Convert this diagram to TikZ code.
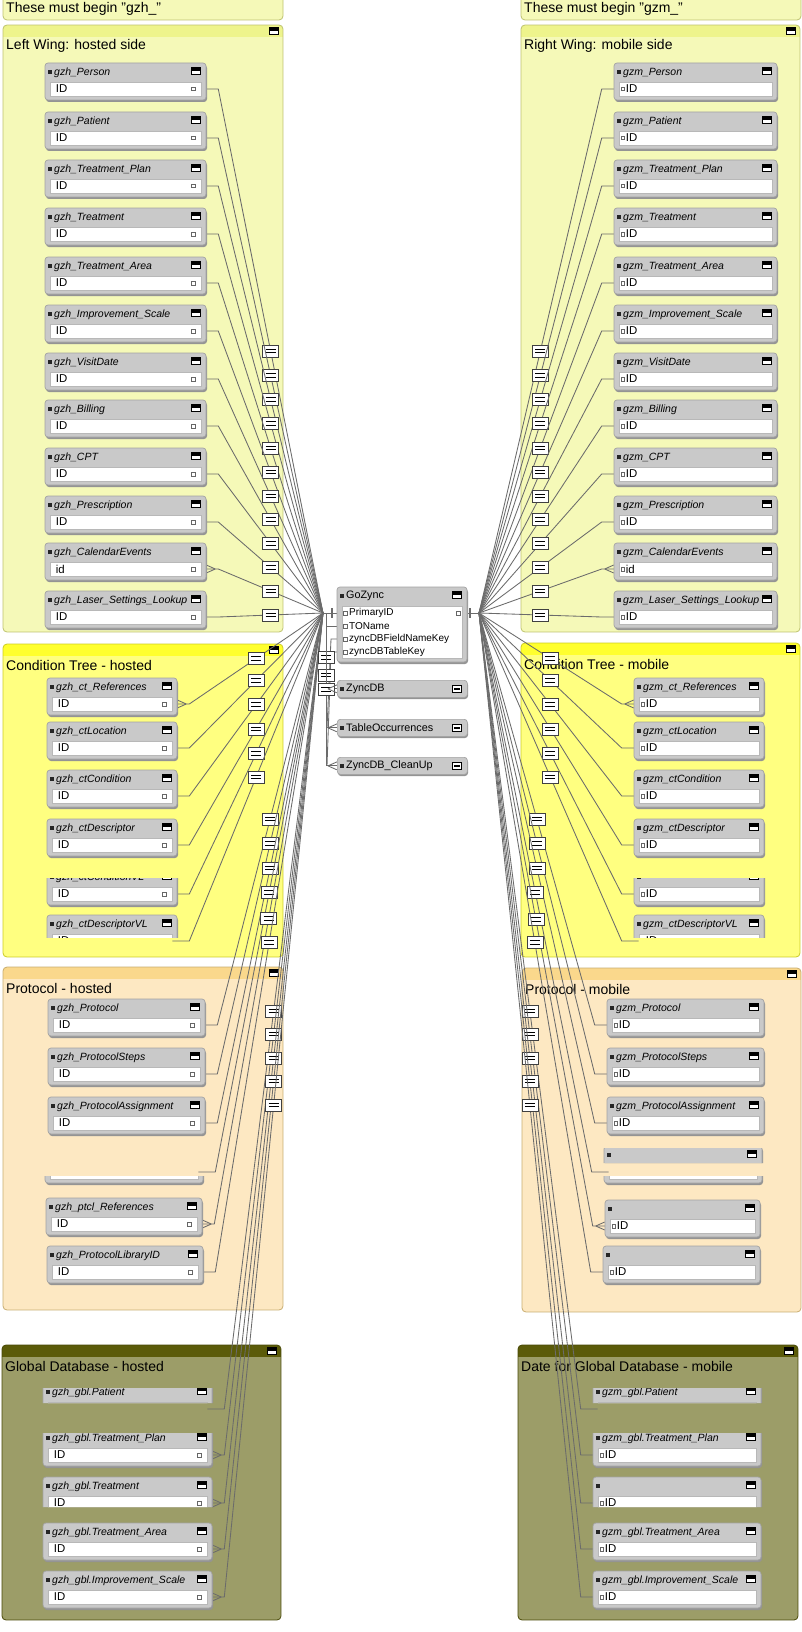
\documentclass[tikz,border=0pt]{standalone}
\usepackage{fontspec}
\setmainfont{Liberation Sans}
\pgfdeclarelayer{grp}
\pgfdeclarelayer{lnk}
\pgfsetlayers{grp,lnk,main}

\definecolor{wingbody}{HTML}{F5F9B8}
\definecolor{winghead}{HTML}{EEF48C}
\definecolor{ctbody}{HTML}{FFFF80}
\definecolor{cthead}{HTML}{FFFF2E}
\definecolor{prbody}{HTML}{FDE8C2}
\definecolor{prhead}{HTML}{FAD88C}
\definecolor{glbody}{HTML}{9C9D68}
\definecolor{glhead}{HTML}{5B5B09}

\tikzset{
  rel/.style={draw=black!58, line width=0.85pt},
  tshad/.style={fill=black!42, rounded corners=3pt},
  tframe/.style={fill=black!21, draw=black!36, line width=0.7pt, rounded corners=3pt},
  ttl/.style={anchor=west, inner sep=0pt, font=\fontsize{10.5}{12}\selectfont\itshape},
  ttlu/.style={anchor=west, inner sep=0pt, font=\fontsize{10.8}{12}\selectfont},
  fld/.style={fill=white, draw=black!28, line width=0.6pt, minimum height=14pt, inner sep=0pt},
  ftxt/.style={anchor=west, inner sep=0pt, font=\fontsize{11.4}{12}\selectfont},
  gtxt/.style={anchor=west, inner sep=0pt, font=\fontsize{10}{11}\selectfont},
  glbl/.style={anchor=west, inner sep=0pt, font=\fontsize{14}{16}\selectfont},
  port/.style={draw=black!60, minimum size=3.5pt, inner sep=0pt, line width=0.5pt},
  tico/.style={fill=black!85, minimum size=4pt, inner sep=0pt},
  ctab/.style={tframe, anchor=north west, minimum width=130pt, minimum height=17pt, inner sep=0pt},
  minbtn/.style={draw=black, fill=white, minimum width=9pt, minimum height=7pt, inner sep=0pt, line width=0.6pt,
    path picture={\fill[black] (path picture bounding box.north west) rectangle (path picture bounding box.east);}},
  minbtnc/.style={draw=black, fill=white, minimum width=9pt, minimum height=7pt, inner sep=0pt, line width=0.6pt,
    path picture={\fill[black] ([xshift=1.5pt,yshift=1pt]path picture bounding box.west) rectangle ([xshift=-1.5pt,yshift=-1pt]path picture bounding box.east);}},
  eqbox/.style={draw=black!75, fill=white, minimum width=16pt, minimum height=12pt, inner sep=0pt, line width=0.7pt,
    path picture={\draw[black, line width=1.1pt]
      ([xshift=3pt,yshift=1.8pt]path picture bounding box.west) -- ([xshift=-3pt,yshift=1.8pt]path picture bounding box.east)
      ([xshift=3pt,yshift=-1.8pt]path picture bounding box.west) -- ([xshift=-3pt,yshift=-1.8pt]path picture bounding box.east);}}
}

% table occurrence: name, x, y (top), width, title, field, side (h/m)
\newcommand{\dbtab}[7]{%
  \fill[tshad] (#2+1,#3+2) rectangle ++(#4,37);
  \filldraw[tframe] (#2,#3) rectangle ++(#4,37);
  \node[tico] at (#2+5,#3+9) {};
  \node[ttl] at (#2+9,#3+9.5) {#5};
  \node[minbtn] at (#2+#4-10,#3+8) {};
  \node[fld, minimum width=#4-10] (#1) at (#2+#4/2,#3+26) {};
  \if h#7
    \node[ftxt] at ([xshift=6pt]#1.west) {#6};
    \node[port] at ([xshift=-8pt]#1.east) {};
  \else
    \node[port] at ([xshift=4pt]#1.west) {};
    \node[ftxt] at ([xshift=7pt]#1.west) {#6};
  \fi}

% group: name, x1, y1, x2, y2, body, head, label
\newcommand{\grpbox}[8]{%
  \begin{scope}
    \clip[rounded corners=4pt] (#2,#3) rectangle (#4,#5);
    \fill[#6] (#2,#3) rectangle (#4,#5);
    \fill[#7] (#2,#3) rectangle (#4,#3+12);
  \end{scope}
  \draw[rounded corners=4pt, draw=#7!80!black, line width=0.8pt] (#2,#3) rectangle (#4,#5);
  \node[glbl] (#1) at (#2+3,#3+21) {#8};
  \node[minbtn] at (#4-9,#3+6) {};}

\newcommand{\crowR}[1]{\draw[rel] ([xshift=14pt]#1.east) -- ([xshift=5pt,yshift=4pt]#1.east)
  ([xshift=14pt]#1.east) -- ([xshift=5pt,yshift=-4pt]#1.east);}
\newcommand{\crowL}[2]{\draw[rel] ([xshift=-#2pt-9pt]#1.west) -- ([xshift=-#2pt,yshift=4pt]#1.west)
  ([xshift=-#2pt-9pt]#1.west) -- ([xshift=-#2pt,yshift=-4pt]#1.west);}

\begin{document}
\begin{tikzpicture}[x=1pt,y=-1pt]
\useasboundingbox (0,0) rectangle (802,1632);

% groups
\begin{pgfonlayer}{grp}
\fill[white] (0,0) rectangle (802,1632);
\filldraw[fill=wingbody, draw=winghead!80!black, line width=0.8pt, rounded corners=4pt] (3,-6) rectangle (283,20);
\node[glbl] (noteH) at (6,9) {These must begin "gzh\_"};
\filldraw[fill=wingbody, draw=winghead!80!black, line width=0.8pt, rounded corners=4pt] (521,-6) rectangle (801,20);
\node[glbl] (noteM) at (524,9) {These must begin "gzm\_"};
\grpbox{gWingH}{3}{25}{283}{632}{wingbody}{winghead}{Left Wing: hosted side}
\grpbox{gWingM}{521}{25}{800}{632}{wingbody}{winghead}{Right Wing: mobile side}
\grpbox{gCtH}{3}{644}{283}{957}{ctbody}{cthead}{Condition Tree - hosted}
\grpbox{gCtM}{521}{643}{800}{957}{ctbody}{cthead}{Condition Tree - mobile}
\grpbox{gPrH}{3}{967}{283}{1310}{prbody}{prhead}{Protocol - hosted}
\grpbox{gPrM}{522}{968}{801}{1312}{prbody}{prhead}{Protocol - mobile}
\grpbox{gGlH}{2}{1345}{281}{1620}{glbody}{glhead}{Global Database - hosted}
\grpbox{gGlM}{518}{1345}{798}{1620}{glbody}{glhead}{Date for Global Database - mobile}
\end{pgfonlayer}

% wings
\foreach \n/\t/\y/\f in {Person/Person/63/ID, Patient/Patient/112/ID, TreatPlan/Treatment\_Plan/160/ID,
  Treat/Treatment/208/ID, TreatArea/Treatment\_Area/257/ID, Improve/Improvement\_Scale/305/ID,
  Visit/VisitDate/353/ID, Billing/Billing/400/ID, CPT/CPT/448/ID, Rx/Prescription/496/ID,
  Cal/CalendarEvents/543/id, Laser/Laser\_Settings\_Lookup/591/ID}
{
  \dbtab{h\n}{45}{\y}{161}{gzh\_\t}{\f}{h}
  \dbtab{m\n}{614}{\y}{163}{gzm\_\t}{\f}{m}
}

% condition tree
\foreach \n/\t/\y in {ctRef/ct\_References/678, ctLoc/ctLocation/722, ctCond/ctCondition/770, ctDesc/ctDescriptor/819}
{
  \dbtab{h\n}{47}{\y}{130}{gzh\_\t}{ID}{h}
  \dbtab{m\n}{634}{\y}{130}{gzm\_\t}{ID}{m}
}
\begin{scope}
  \clip (40,878) rectangle (200,912);
  \dbtab{hctCondVL}{47}{868}{130}{gzh\_ctConditionVL}{ID}{h}
\end{scope}
\begin{scope}
  \clip (40,912) rectangle (200,937);
  \dbtab{hctDescVL}{47}{915}{130}{gzh\_ctDescriptorVL}{ID}{h}
\end{scope}
\begin{scope}
  \clip (625,878) rectangle (780,912);
  \dbtab{mctCondVL}{634}{868}{130}{}{ID}{m}
\end{scope}
\begin{scope}
  \clip (625,912) rectangle (780,937);
  \dbtab{mctDescVL}{634}{915}{130}{gzm\_ctDescriptorVL}{ID}{m}
\end{scope}

% protocol
\foreach \n/\t/\y in {Prot/Protocol/999, ProtSteps/ProtocolSteps/1048, ProtAssign/ProtocolAssignment/1097}
{
  \dbtab{h\n}{48}{\y}{157}{gzh\_\t}{ID}{h}
  \dbtab{m\n}{607}{\y}{157}{gzm\_\t}{ID}{m}
}
\begin{scope}
  \clip (40,1176) rectangle (215,1186);
  \dbtab{hProtX}{45}{1146}{158}{}{ID}{h}
\end{scope}
\begin{scope}
  \clip (598,1148) rectangle (770,1163) (598,1176) rectangle (770,1186);
  \dbtab{mProtX}{604}{1146}{158}{}{ID}{m}
\end{scope}
\dbtab{hptclRef}{46}{1198}{156}{gzh\_ptcl\_References}{ID}{h}
\dbtab{mptclRef}{605}{1200}{155}{}{ID}{m}
\dbtab{hProtLib}{47}{1246}{156}{gzh\_ProtocolLibraryID}{ID}{h}
\dbtab{mProtLib}{603}{1246}{157}{}{ID}{m}

% global database
\begin{scope}
  \clip (38,1388) rectangle (220,1403) (588,1388) rectangle (770,1403);
  \dbtab{hgPatient}{43}{1383}{169}{gzh\_gbl.Patient}{ID}{h}
  \dbtab{mgPatient}{593}{1383}{168}{gzm\_gbl.Patient}{ID}{m}
\end{scope}
\begin{scope}
  \clip (38,1433) rectangle (220,1472) (588,1433) rectangle (770,1472);
  \dbtab{hgTreatPlan}{43}{1429}{169}{gzh\_gbl.Treatment\_Plan}{ID}{h}
  \dbtab{mgTreatPlan}{593}{1429}{168}{gzm\_gbl.Treatment\_Plan}{ID}{m}
\end{scope}
\begin{scope}
  \clip (38,1472) rectangle (220,1507) (588,1472) rectangle (770,1507);
  \dbtab{hgTreat}{43}{1477}{169}{gzh\_gbl.Treatment}{ID}{h}
  \dbtab{mgTreat}{593}{1477}{168}{}{ID}{m}
\end{scope}
\dbtab{hgTreatArea}{43}{1523}{169}{gzh\_gbl.Treatment\_Area}{ID}{h}
\dbtab{mgTreatArea}{593}{1523}{168}{gzm\_gbl.Treatment\_Area}{ID}{m}
\dbtab{hgImprove}{43}{1571}{169}{gzh\_gbl.Improvement\_Scale}{ID}{h}
\dbtab{mgImprove}{593}{1571}{168}{gzm\_gbl.Improvement\_Scale}{ID}{m}

% GoZync and its helpers
\fill[tshad] (338,589) rectangle ++(130,75);
\filldraw[tframe] (337,587) rectangle ++(130,75);
\node[tico] at (342,596) {};
\node[ttlu] (gzt) at (346,596) {GoZync};
\node[minbtn] at (457,595) {};
\node[fld, minimum width=120pt, minimum height=52pt, anchor=north west] (gzf) at (342,606) {};
\foreach \nm/\tx/\yy in {gzPri/PrimaryID/613, gzTO/TOName/626, gzFN/zyncDBFieldNameKey/639, gzTK/zyncDBTableKey/652}
{
  \node[port] at (345,\yy) {};
  \node[gtxt] (\nm) at (349,\yy) {\tx};
}
\node[port] at (458,613) {};
\foreach \nm/\tx/\yy in {zdb/ZyncDB/680, zto/TableOccurrences/719, zcl/ZyncDB\_CleanUp/757}
{
  \fill[tshad] (338,\yy+2) rectangle ++(130,17);
  \node[ctab] (\nm) at (337,\yy) {};
  \node[tico] at (342,\yy+8.5) {};
  \node[ttlu] at (346,\yy+8.5) {\tx};
  \node[minbtnc] at (457,\yy+8.5) {};
}

% relationships
\begin{pgfonlayer}{lnk}
\coordinate (gzL) at (323,613);
\coordinate (gzR) at (479,613);
\draw[rel] (gzL) -- (gzPri.west);
\draw[rel, line width=1.4pt] (332,608) -- (332,618);
\draw[rel] (gzR) -- (gzf.east |- gzR);
\draw[rel, line width=1.4pt] (470,608) -- (470,618);
\foreach \n in {Person,Patient,TreatPlan,Treat,TreatArea,Improve,Visit,Billing,CPT,Rx,Cal,Laser,
  ctRef,ctLoc,ctCond,ctDesc,ctCondVL,ctDescVL,Prot,ProtSteps,ProtAssign,ProtX,ptclRef,ProtLib,
  gPatient,gTreatPlan,gTreat,gTreatArea,gImprove}
{
  \draw[rel] (h\n.east) -- ++(17,0) -- node[eqbox]{} (gzL);
  \draw[rel] (m\n.west) -- ++(-17,0) -- node[eqbox]{} (gzR);
}
\crowR{hCal} \crowR{hctRef} \crowR{hptclRef}
\crowR{hgTreatPlan} \crowR{hgTreat} \crowR{hgTreatArea} \crowR{hgImprove}
\crowL{mCal}{5} \crowL{mctRef}{5} \crowL{mptclRef}{5}
\draw[rel] (gzFN.west) -- ++(-18,0) -- ([xshift=-10pt]zto.west);
\draw[rel] (gzTK.west) -- ++(-18,0) -- ([xshift=-10pt]zcl.west);
\draw[rel] (gzTO.west) -- ++(-23,0) |- node[eqbox, pos=.25]{} (zdb.west);
\draw[rel] (gzPri.west) -- ++(-23,0) |- node[eqbox, pos=.27]{} (zto.west);
\draw[rel] (gzPri.west) -- ++(-23,0) |- node[eqbox, pos=.25]{} (zcl.west);
\crowL{zdb}{0} \crowL{zto}{0} \crowL{zcl}{0}
\end{pgfonlayer}
\end{tikzpicture}
\end{document}
